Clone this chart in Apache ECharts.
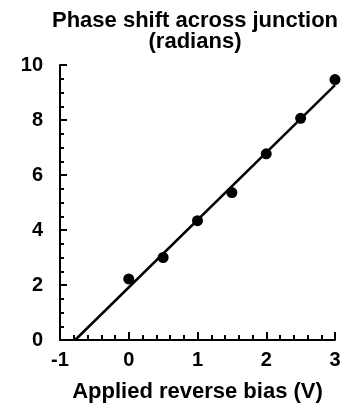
<!DOCTYPE html>
<html>
<head>
<meta charset="utf-8">
<script src="https://cdn.jsdelivr.net/npm/echarts@6/dist/echarts.min.js"></script>
<style>
    html, body { margin: 0; padding: 0; background: #fff; }
    #chart { width: 344px; height: 409px; }
</style>
</head>
<body>
<div id="chart"></div>
<script>
// 测量数据：偏压(V) 与 相移(rad)
let biasV = [0, 0.5, 1, 1.5, 2, 2.5, 3];
let phaseRad = [2.22, 3.0, 4.34, 5.36, 6.77, 8.06, 9.47];
// 拟合直线的两个端点
let fitX = [-0.78, 3];
let fitY = [0, 9.27];
let xTicks = [-1, 0, 1, 2, 3];
let yTicks = [0, 2, 4, 6, 8, 10];

let font = "'Liberation Sans', Arial, sans-serif";

let chart = echarts.init(document.getElementById('chart'));
let option = {
    animation: false,
    title: {
        text: 'Phase shift across junction\n(radians)',
        left: 190,
        top: 5,
        textAlign: 'center',
        textStyle: {
            fontFamily: font,
            fontSize: 22,
            fontWeight: 'bold',
            color: '#000',
            lineHeight: 21
        }
    },
    grid: {
        left: 60,
        right: 9,
        top: 65,
        bottom: 69
    },
    xAxis: {
        type: 'value',
        min: xTicks[0],
        max: xTicks[xTicks.length - 1],
        interval: 1,
        name: 'Applied reverse bias (V)',
        nameLocation: 'middle',
        nameGap: 41,
        nameTextStyle: {
            fontFamily: font,
            fontSize: 22,
            fontWeight: 'bold',
            color: '#000'
        },
        axisLine: { onZero: false, lineStyle: { color: '#000', width: 2 } },
        axisTick: { show: true, inside: true, length: 8, lineStyle: { color: '#000', width: 2 } },
        minorTick: { show: true, splitNumber: 5, length: 5, lineStyle: { color: '#000', width: 2 } },
        splitLine: { show: false },
        axisLabel: {
            margin: 10,
            fontFamily: font,
            fontSize: 20,
            fontWeight: 'bold',
            color: '#000'
        }
    },
    yAxis: {
        type: 'value',
        min: yTicks[0],
        max: yTicks[yTicks.length - 1],
        interval: 2,
        axisLine: { show: true, onZero: false, lineStyle: { color: '#000', width: 2 } },
        axisTick: { show: true, inside: true, length: 7, lineStyle: { color: '#000', width: 2 } },
        minorTick: { show: true, splitNumber: 4, length: 4, lineStyle: { color: '#000', width: 2 } },
        splitLine: { show: false },
        axisLabel: {
            margin: 17,
            fontFamily: font,
            fontSize: 20,
            fontWeight: 'bold',
            color: '#000'
        }
    },
    series: [
        {
            type: 'line',
            data: fitX.map((x, i) => [x, fitY[i]]),
            showSymbol: false,
            lineStyle: { color: '#000', width: 2.5 },
            z: 2
        },
        {
            type: 'scatter',
            data: biasV.map((x, i) => [x, phaseRad[i]]),
            symbol: 'circle',
            symbolSize: 11,
            itemStyle: { color: '#000', opacity: 1 },
            z: 3
        }
    ]
};
chart.setOption(option);
</script>
</body>
</html>
